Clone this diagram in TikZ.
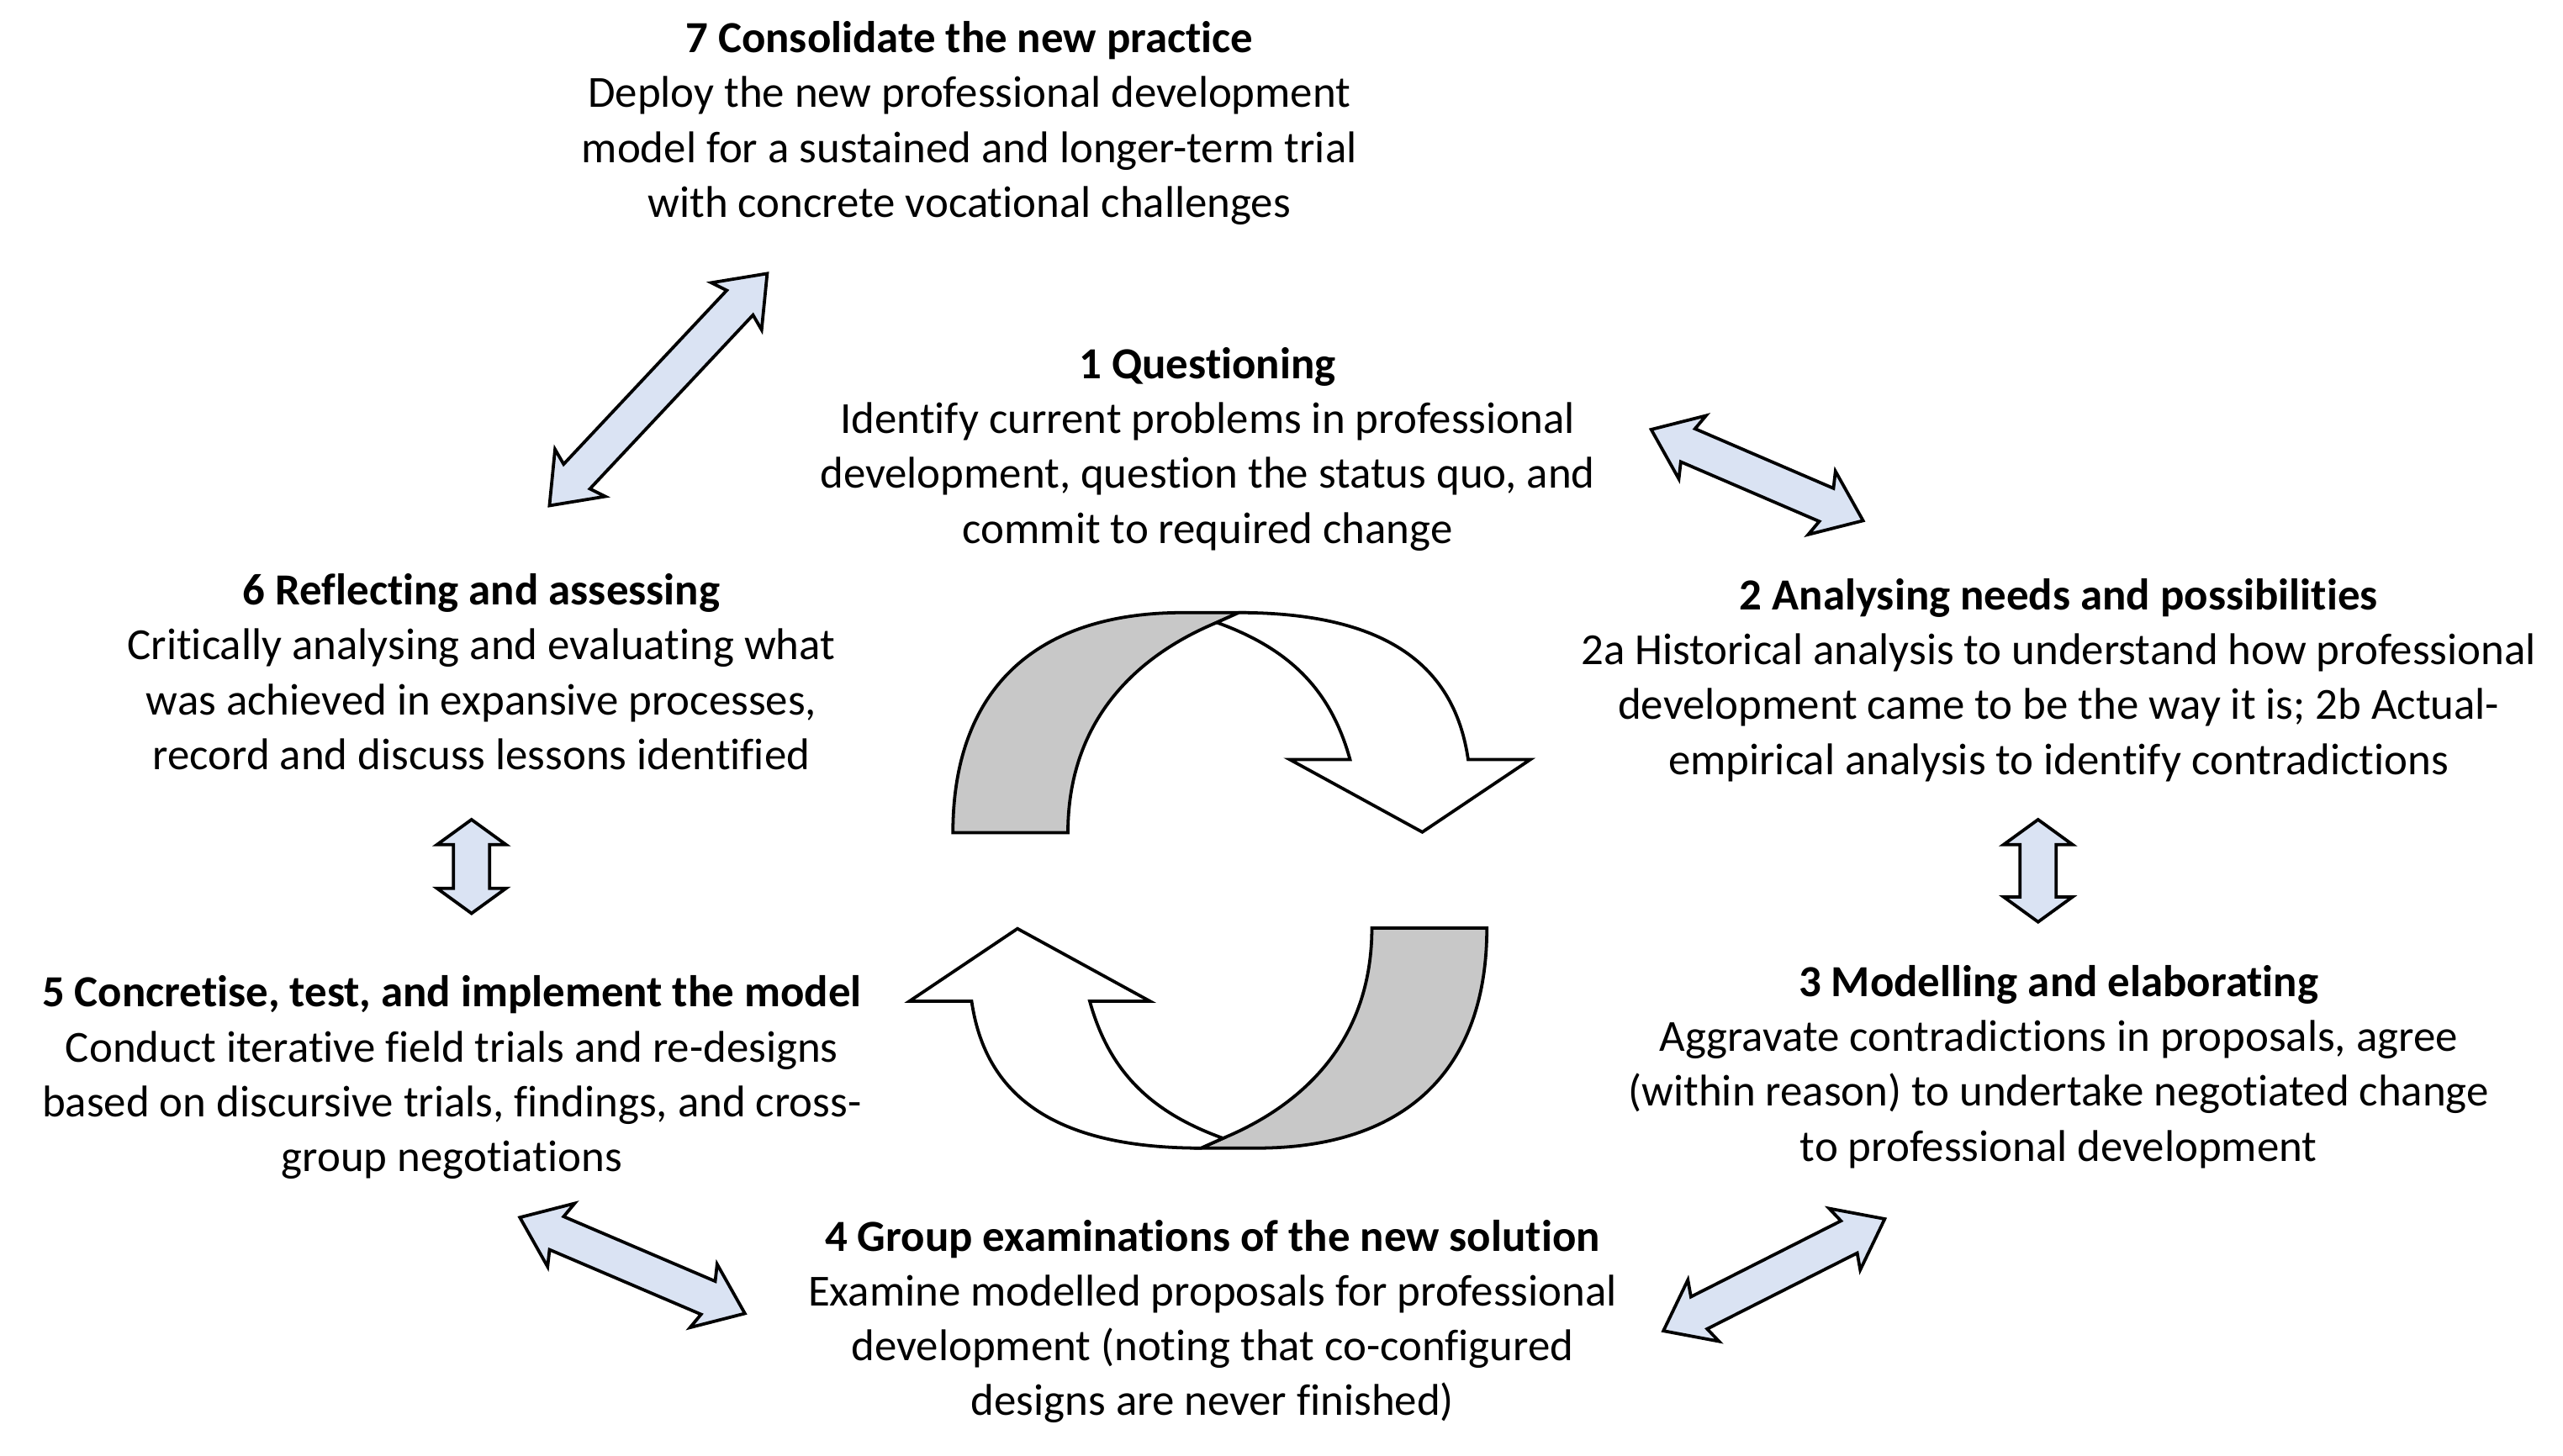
\documentclass[tikz,border=0pt]{standalone}
\usepackage{fontspec}
\setmainfont[RawFeature={-liga;-clig;-calt;-dlig}]{Carlito}
\usetikzlibrary{shapes.arrows,calc}
\definecolor{arrowblue}{RGB}{218,227,243}
\definecolor{ribbongray}{RGB}{200,200,200}
\tikzset{stage/.style={align=center, inner sep=0mm, font=\fontsize{15.4}{19}\selectfont}}
\tikzset{twoway/.style={double arrow, draw, line width=1.1pt, fill=arrowblue, inner xsep=0mm, inner ysep=0.2cm,
    minimum width=0.8cm, double arrow head extend=0.2cm,
    double arrow tip angle=75, double arrow head indent=0.06cm}}
\tikzset{updown/.style={twoway, double arrow tip angle=108, double arrow head indent=0mm}}
\tikzset{halfturn/.pic={
    \draw[line width=1.1pt, fill=ribbongray] (-162.5,-29) .. controls (-162.5,-116) and (-112.5,-163) .. (-22.5,-163)
        -- (11.5,-163) -- (-1.9,-157) .. controls (-52.5,-136) and (-92.5,-96) .. (-92.5,-29) -- cycle;
    \draw[line width=1.1pt, fill=white] (11.5,-163) .. controls (107.5,-163) and (143.5,-126) .. (151.1,-73.6)
        -- (189,-73.6) -- (123.2,-29.4) -- (42.5,-73.6) -- (79.2,-73.6)
        .. controls (67.5,-116) and (42.5,-141) .. (-1.9,-157) -- cycle;
}}

\begin{document}
\begin{tikzpicture}[x=0.02cm, y=-0.02cm]
    \useasboundingbox (0,0) rectangle (1560,886.45);

    \node (s7) at (590, 75) [stage] {\textbf{7 Consolidate the new practice}\\
        Deploy the new professional development\\
        model for a sustained and longer-term trial\\
        with concrete vocational challenges};
    \node (s1) at (735, 273.5) [stage] {\textbf{1 Questioning}\\
        Identify current problems in professional\\
        development, question the status quo, and\\
        commit to required change};
    \node (s2) at (1253, 414) [stage] {\textbf{2 Analysing needs and possibilities}\\
        2a Historical analysis to understand how professional\\
        development came to be the way it is; 2b Actual-\\
        empirical analysis to identify contradictions};
    \node (s6) at (293, 409) [stage] {\textbf{6 Reflecting and assessing}\\
        Critically analysing and evaluating what\\
        was achieved in expansive processes,\\
        record and discuss lessons identified};
    \node (s5) at (275, 656) [stage] {\textbf{5 Concretise, test, and implement the model}\\
        Conduct iterative field trials and re-designs\\
        based on discursive trials, findings, and cross-\\
        group negotiations};
    \node (s3) at (1253, 649.5) [stage] {\textbf{3 Modelling and elaborating}\\
        Aggravate contradictions in proposals, agree\\
        (within reason) to undertake negotiated change\\
        to professional development};
    \node (s4) at (738, 804.5) [stage] {\textbf{4 Group examinations of the new solution}\\
        Examine modelled proposals for professional\\
        development (noting that co-configured\\
        designs are never finished)};

    % central cycle
    \pic at (742.5, 536) {halfturn};
    \pic[rotate=180] at (742.5, 536) {halfturn};

    % arrow ends
    \coordinate (a7) at (467.2, 166.3);
    \coordinate (a6) at (334.2, 308.1);
    \coordinate (b1) at (1005, 261.5);
    \coordinate (b2) at (1134, 317);
    \coordinate (c2) at (1240.5, 499);
    \coordinate (c3) at (1240.5, 561.3);
    \coordinate (d6) at (287, 499);
    \coordinate (d5) at (287, 556.1);
    \coordinate (e5) at (316.4, 741.2);
    \coordinate (e4) at (453.4, 799.7);
    \coordinate (f4) at (1012.4, 810.3);
    \coordinate (f3) at (1147.2, 742.1);

    \path let \p1 = ($(a7)-(a6)$), \n1 = {veclen(\x1,\y1)} in (a6) -- (a7) node [twoway, midway, sloped, minimum height=\n1] {};
    \path let \p1 = ($(b2)-(b1)$), \n1 = {veclen(\x1,\y1)} in (b1) -- (b2) node [twoway, midway, sloped, minimum height=\n1] {};
    \path let \p1 = ($(c3)-(c2)$), \n1 = {veclen(\x1,\y1)} in (c2) -- (c3) node [updown, midway, sloped, minimum height=\n1] {};
    \path let \p1 = ($(d5)-(d6)$), \n1 = {veclen(\x1,\y1)} in (d6) -- (d5) node [updown, midway, sloped, minimum height=\n1] {};
    \path let \p1 = ($(e4)-(e5)$), \n1 = {veclen(\x1,\y1)} in (e5) -- (e4) node [twoway, midway, sloped, minimum height=\n1] {};
    \path let \p1 = ($(f3)-(f4)$), \n1 = {veclen(\x1,\y1)} in (f4) -- (f3) node [twoway, midway, sloped, minimum height=\n1] {};
\end{tikzpicture}
\end{document}
